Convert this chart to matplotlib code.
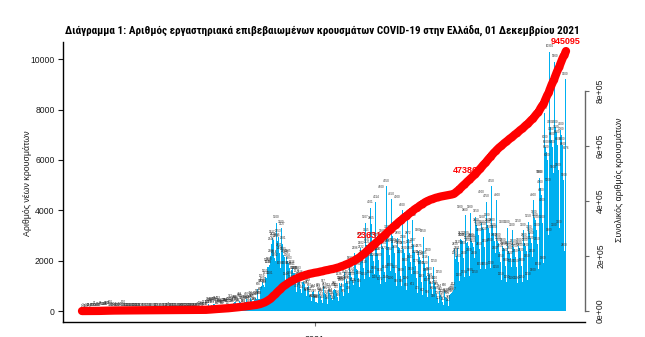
import numpy as np
import pandas as pd
import matplotlib
matplotlib.use('Agg')
import matplotlib.pyplot as plt
import matplotlib.dates as mdates
from matplotlib import font_manager

# ημερήσια νέα κρούσματα, από 26/02/2020 ως 01/12/2021 (μία εβδομάδα ανά γραμμή, Τετ-Τρι)
start_date = '2020-02-26'
new_cases = [
    1, 2, 0, 1, 0, 3, 0,
    2, 22, 13, 0, 7, 7, 16,
    10, 18, 91, 10, 38, 21, 56,
    31, 31, 46, 35, 94, 71, 71,
    78, 71, 74, 74, 95, 60, 102,
    99, 30, 150, 31, 62, 20, 27,
    71, 40, 42, 21, 20, 19, 49,
    31, 23, 41, 7, 4, 12, 150,
    16, 39, 10, 12, 13, 13, 22,
    14, 21, 15, 9, 10, 17, 20,
    12, 16, 13, 12, 16, 23, 9,
    12, 10, 7, 8, 6, 13, 6,
    9, 11, 3, 3, 5, 3, 8,
    15, 8, 9, 3, 9, 2, 3,
    15, 20, 37, 5, 3, 1, 13,
    5, 8, 5, 3, 6, 17, 8,
    23, 20, 36, 41, 11, 8, 12,
    16, 14, 12, 17, 3, 15, 15,
    4, 21, 9, 6, 33, 24, 10,
    18, 15, 29, 17, 27, 11, 21,
    16, 21, 20, 29, 21, 30, 26,
    19, 25, 24, 35, 28, 22, 30,
    47, 21, 40, 110, 46, 52, 33,
    69, 60, 121, 79, 80, 121, 139,
    262, 156, 203, 217, 256, 131, 194,
    261, 269, 284, 228, 111, 125, 293,
    168, 202, 195, 155, 150, 112, 200,
    228, 223, 214, 185, 169, 117, 274,
    257, 372, 273, 196, 190, 221, 307,
    342, 338, 318, 265, 190, 211, 453,
    409, 359, 305, 297, 183, 196, 358,
    316, 356, 460, 294, 339, 199, 343,
    498, 387, 446, 376, 250, 248, 455,
    508, 472, 597, 866, 480, 493, 667,
    965, 982, 1159, 1035, 938, 965, 1359,
    1311, 1790, 1739, 1746, 1838, 1281, 2166,
    2646, 2917, 2752, 2835, 2114, 1992, 2756,
    3500, 2795, 2953, 2411, 2298, 1698, 3300,
    3227, 2681, 2233, 2151, 1698, 1244, 2131,
    2004, 2185, 1903, 1696, 1294, 1144, 1641,
    1726, 1510, 1495, 1495, 1139, 759, 1371,
    1483, 1208, 1272, 1316, 867, 724, 1165,
    1184, 1163, 1065, 893, 670, 613, 942,
    999, 807, 655, 575, 386, 362, 745,
    794, 597, 362, 338, 362, 330, 815,
    781, 668, 593, 631, 452, 330, 977,
    843, 721, 681, 542, 415, 296, 823,
    718, 586, 624, 509, 423, 302, 833,
    886, 822, 821, 725, 546, 406, 1236,
    1101, 1000, 1109, 1054, 758, 585, 1545,
    1340, 1129, 1261, 1095, 879, 700, 1897,
    1556, 1454, 1341, 1250, 1026, 927, 2296,
    1832, 1672, 1750, 1630, 1301, 956, 2858,
    2502, 2322, 2138, 2106, 1719, 1253, 3507,
    3015, 2637, 2521, 2309, 2011, 1344, 4101,
    3465, 2854, 2219, 2002, 1481, 1118, 4314,
    2786, 2246, 2237, 2009, 1431, 1072, 4700,
    2980, 2556, 2504, 2273, 1541, 1141, 4950,
    3139, 2617, 2547, 2234, 1600, 1100, 4450,
    2980, 2589, 2513, 2306, 1521, 976, 4300,
    2893, 2545, 2489, 2120, 1400, 976, 4000,
    2708, 2475, 2300, 1800, 1100, 830, 3650,
    2872, 2510, 2300, 1943, 1459, 861, 3600,
    2607, 2354, 2109, 1770, 1300, 705, 3000,
    2375, 2143, 2044, 1690, 1163, 632, 2950,
    2105, 1916, 1700, 1400, 1029, 550, 2200,
    1460, 1221, 1098, 884, 680, 398, 1750,
    1110, 950, 848, 678, 506, 313, 1350,
    784, 645, 567, 509, 361, 252, 800,
    627, 562, 521, 493, 349, 212, 617,
    673, 590, 715, 770, 852, 637, 2450,
    2080, 2197, 2301, 2519, 1963, 1200, 3900,
    2871, 2820, 2786, 2500, 2100, 1334, 3800,
    2900, 2700, 2750, 2600, 2200, 1400, 3900,
    2800, 2750, 2700, 2550, 2100, 1350, 3750,
    3400, 3300, 3200, 3000, 2450, 1650, 4500,
    3500, 3300, 3250, 3050, 2550, 1650, 4350,
    3600, 3400, 3300, 3100, 2600, 1700, 4950,
    3400, 3200, 3100, 2800, 2300, 1550, 4400,
    2800, 2700, 2600, 2350, 1950, 1250, 3300,
    2600, 2500, 2450, 2200, 1800, 1150, 3300,
    2500, 2400, 2300, 2100, 1750, 1100, 3200,
    2550, 2450, 2350, 2150, 1750, 1100, 3350,
    2600, 2500, 2400, 2200, 1800, 1150, 3200,
    2800, 2700, 2600, 2400, 1950, 1250, 3550,
    3100, 3000, 2900, 2700, 2150, 1400, 4400,
    3700, 3600, 3500, 3200, 2650, 1650, 5300,
    5300, 4900, 4600, 4200, 3500, 1900, 7850,
    6700, 6500, 6300, 6000, 5000, 3000, 10300,
    7300, 7000, 6800, 6500, 5500, 3200, 9900,
    7300, 7100, 6900, 6600, 5600, 3300, 9500,
    7200, 7000, 6600, 6400, 5200, 2400, 9200,
    6276,
]

# ημερομηνίες όπου γράφεται ο συνολικός αριθμός
label_dates = ['2021-03-18', '2021-07-24', '2021-12-01']

left_ticks = [0, 2000, 4000, 6000, 8000, 10000]
right_ticks = [0, 200000, 400000, 600000, 800000]
right_ticklabels = ['0e+00', '2e+05', '4e+05', '6e+05', '8e+05']

title = ('Διάγραμμα 1: Αριθμός εργαστηριακά επιβεβαιωμένων κρουσμάτων '
         'COVID-19 στην Ελλάδα, 01 Δεκεμβρίου 2021')

dates = pd.date_range(start_date, periods=len(new_cases), freq='D')
total_cases = np.cumsum(new_cases)

plt.rcParams['font.family'] = ['Liberation Sans', 'DejaVu Sans']

# στενή γραμματοσειρά για τον τίτλο αν υπάρχει
installed = {f.name for f in font_manager.fontManager.ttflist}
narrow = [n for n in ['Liberation Sans Narrow', 'Roboto Condensed',
                      'DejaVu Sans Condensed'] if n in installed]
if narrow:
    title_family, title_size = [narrow[0], 'DejaVu Sans'], 8
else:
    title_family, title_size = ['Liberation Sans', 'DejaVu Sans'], 6.3

fig = plt.figure(figsize=(6.45, 3.37), dpi=100)
ax = fig.add_axes([63 / 645, 15 / 337, 522 / 645, 280 / 337])

# ραβδόγραμμα νέων κρουσμάτων
ax.bar(dates, new_cases, width=1.0, color='#00B0F0', linewidth=0)
for d, v in zip(dates, new_cases):
    ax.annotate(str(v), (d, v), xytext=(0, 2.5), textcoords='offset points',
                ha='center', va='bottom', fontsize=2.2, color='#333333')

x0 = mdates.date2num(dates[0])
ax.set_xlim(x0 - 25.3, x0 + 669.3)
ax.set_ylim(-437, 10687)
ax.set_yticks(left_ticks)
ax.tick_params(axis='y', labelsize=6.2, length=3.6, width=0.8, pad=2.5,
               colors='#1a1a1a')
ax.set_xticks([mdates.date2num(pd.Timestamp('2021-01-01'))])
ax.set_xticklabels(['2021'])
ax.tick_params(axis='x', labelsize=6.5, length=3, width=0.8, pad=6.5,
               color='#777777', labelcolor='#1a1a1a')
ax.spines['top'].set_visible(False)
ax.spines['right'].set_visible(False)
ax.spines['left'].set_linewidth(1)
ax.spines['bottom'].set_linewidth(1)

# γραμμή συνολικών κρουσμάτων στον δεξιό άξονα
ax2 = ax.twinx()
ax2.plot(dates, total_cases, color='#FF0000', lw=6, solid_capstyle='round')
for ld in label_dates:
    i = dates.get_loc(pd.Timestamp(ld))
    ax2.annotate(str(total_cases[i]), (dates[i], total_cases[i]), xytext=(0, 4),
                 textcoords='offset points', ha='center', va='bottom',
                 fontsize=6.5, fontweight='bold', color='#FF0000')
ax2.set_ylim(-40000, 978182)
ax2.set_yticks(right_ticks)
ax2.set_yticklabels(right_ticklabels, rotation=90, va='center')
ax2.tick_params(axis='y', labelsize=6.2, length=3, width=0.8, pad=5,
                color='#666666', labelcolor='#1a1a1a')
for s in ['top', 'left', 'bottom']:
    ax2.spines[s].set_visible(False)
ax2.spines['right'].set_bounds(0, 800000)
ax2.spines['right'].set_color('#666666')
ax2.spines['right'].set_linewidth(1)

fig.text(28 / 645, 1 - 183 / 337, 'Αριθμός νέων κρουσμάτων', rotation=90,
         ha='center', va='center', fontsize=6.3, color='#1a1a1a')
fig.text(620 / 645, 1 - 180 / 337, 'Συνολικός αριθμός κρουσμάτων', rotation=90,
         ha='center', va='center', fontsize=6.3, color='#1a1a1a')
fig.text(322 / 645, 1 - 30 / 337, title, ha='center', va='center',
         fontsize=title_size, fontweight='bold', family=title_family)

fig.savefig('out.png', dpi=100)
